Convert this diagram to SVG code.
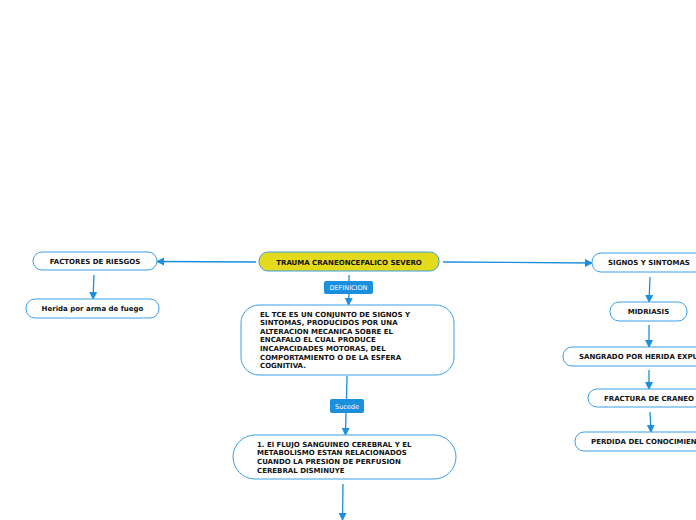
<svg xmlns="http://www.w3.org/2000/svg" width="696" height="520" viewBox="0 0 696 520">
<defs>
<marker id="ah" markerWidth="8" markerHeight="8" refX="7" refY="4" orient="auto" markerUnits="userSpaceOnUse">
<path d="M0,0 L8,4 L0,8 Z" fill="#1a8fdd"/>
</marker>
<style>
.n{fill:#fff;stroke:#3a9fe4;stroke-width:1}
.c{fill:#e3da1c;stroke:#3a9fe4;stroke-width:1}
.t{font-family:"DejaVu Sans",Verdana,sans-serif;font-weight:bold;font-size:7px;fill:#111}
.m{text-anchor:middle}
.l{fill:#1a8fdd}
.lt{font-family:"DejaVu Sans",Verdana,sans-serif;font-size:6.5px;fill:#fff;text-anchor:middle}
.k{stroke:#1a8fdd;stroke-width:1.3;fill:none}
</style>
</defs>
<rect width="696" height="520" fill="#fff"/>
<g id="connectors">
<line class="k" x1="256" y1="262" x2="157" y2="261.5" marker-end="url(#ah)"/>
<line class="k" x1="443" y1="262" x2="592" y2="263" marker-end="url(#ah)"/>
<line class="k" x1="94" y1="275" x2="93" y2="299" marker-end="url(#ah)"/>
<line class="k" x1="349" y1="275" x2="349" y2="281"/>
<line class="k" x1="349" y1="294" x2="348.5" y2="305" marker-end="url(#ah)"/>
<line class="k" x1="347" y1="376" x2="346.5" y2="399"/>
<line class="k" x1="346" y1="413" x2="345.5" y2="435" marker-end="url(#ah)"/>
<line class="k" x1="343" y1="484" x2="342.5" y2="520" marker-end="url(#ah)"/>
<line class="k" x1="650" y1="277" x2="649" y2="302" marker-end="url(#ah)"/>
<line class="k" x1="649" y1="325" x2="649" y2="347" marker-end="url(#ah)"/>
<line class="k" x1="649" y1="370" x2="649" y2="389" marker-end="url(#ah)"/>
<line class="k" x1="650" y1="412" x2="651" y2="432" marker-end="url(#ah)"/>
<rect class="l" x="324" y="281" width="49" height="13" rx="2"/>
<text class="lt" x="348.5" y="290">DEFINICION</text>
<rect class="l" x="330" y="399" width="34" height="14" rx="2"/>
<text class="lt" x="347" y="408.5">Sucede</text>
</g>
<g id="central">
<rect class="c" x="259" y="252" width="180" height="19" rx="9"/>
<text class="t m" x="349" y="264.5">TRAUMA CRANEONCEFALICO SEVERO</text>
</g>
<g id="factores">
<rect class="n" x="33" y="252" width="124" height="18" rx="9"/>
<text class="t m" x="95" y="264">FACTORES DE RIESGOS</text>
</g>
<g id="herida">
<rect class="n" x="26" y="299" width="133" height="19" rx="9"/>
<text class="t m" x="92.5" y="311">Herida por arma de fuego</text>
</g>
<g id="definicion">
<rect class="n" x="241" y="305" width="213" height="70" rx="18"/>
<text class="t" x="260" y="316.5">EL TCE ES UN CONJUNTO DE SIGNOS Y</text>
<text class="t" x="260" y="325.1">SINTOMAS, PRODUCIDOS POR UNA</text>
<text class="t" x="260" y="333.7">ALTERACION MECANICA SOBRE EL</text>
<text class="t" x="260" y="342.3">ENCAFALO EL CUAL PRODUCE</text>
<text class="t" x="260" y="350.9">INCAPACIDADES MOTORAS, DEL</text>
<text class="t" x="260" y="359.5">COMPORTAMIENTO O DE LA ESFERA</text>
<text class="t" x="260" y="368.1">COGNITIVA.</text>
</g>
<g id="flujo">
<rect class="n" x="233" y="435" width="223" height="44" rx="22"/>
<text class="t" x="257" y="446.5">1. El FLUJO SANGUINEO CEREBRAL Y EL</text>
<text class="t" x="257" y="455.2">METABOLISMO ESTAN RELACIONADOS</text>
<text class="t" x="257" y="463.9">CUANDO LA PRESION DE PERFUSION</text>
<text class="t" x="257" y="472.6">CEREBRAL DISMINUYE</text>
</g>
<g id="signos">
<rect class="n" x="592" y="253" width="120" height="19" rx="9"/>
<text class="t" x="608" y="265">SIGNOS Y SINTOMAS</text>
</g>
<g id="midriasis">
<rect class="n" x="610" y="302" width="77" height="19" rx="9"/>
<text class="t m" x="648.5" y="314">MIDRIASIS</text>
</g>
<g id="sangrado">
<rect class="n" x="563" y="347" width="150" height="19" rx="9"/>
<text class="t" x="579" y="359">SANGRADO POR HERIDA EXPUESTA</text>
</g>
<g id="fractura">
<rect class="n" x="588" y="389" width="120" height="18" rx="9"/>
<text class="t" x="604" y="400.5">FRACTURA DE CRANEO</text>
</g>
<g id="perdida">
<rect class="n" x="575" y="432" width="140" height="19" rx="9"/>
<text class="t" x="591" y="444">PERDIDA DEL CONOCIMIENTO</text>
</g>
</svg>
